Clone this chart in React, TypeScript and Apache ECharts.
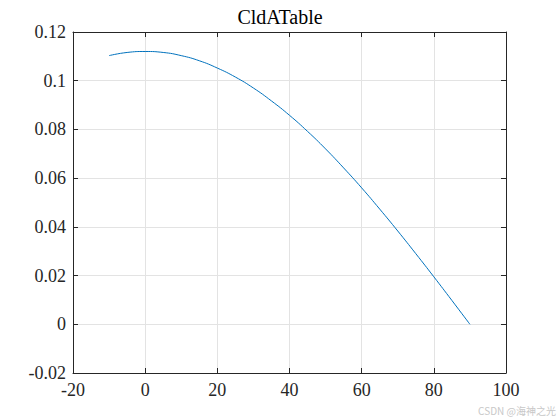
import React, { useEffect, useRef } from 'react';
import * as echarts from 'echarts';

// angle samples
const xValues = [-10, -5, 0, 5, 10, 15, 20, 25, 30, 35, 40, 45, 50, 55, 60, 65, 70, 75, 80, 85, 90];
const yValues = [
    0.1103, 0.1116, 0.112, 0.1116, 0.1103, 0.1082, 0.1052, 0.1015, 0.097, 0.0917, 0.0858,
    0.0792, 0.072, 0.0642, 0.056, 0.0473, 0.0383, 0.029, 0.0195, 0.0098, 0.0,
];
const titleText = 'CldATable';
const watermark = 'CSDN @海神之光';

const FONT = 'Liberation Serif';
const AXIS_COLOR = '#262626';
const GRID_COLOR = '#e3e3e3';

function makeAxis(kind: 'x' | 'y', position: string, main: boolean) {
    const range =
        kind === 'x'
            ? { min: -20, max: 100, interval: 20 }
            : { min: -0.02, max: 0.12, interval: 0.02 };
    return {
        type: 'value',
        position,
        ...range,
        axisLine: { show: true, onZero: false, lineStyle: { color: AXIS_COLOR, width: 1 } },
        axisTick: { show: true, inside: true, length: 5, lineStyle: { color: AXIS_COLOR, width: 1 } },
        axisLabel: {
            show: main,
            fontFamily: FONT,
            fontSize: 18,
            color: AXIS_COLOR,
            margin: kind === 'x' ? 8 : 7,
            formatter: (v: number) => String(parseFloat(v.toFixed(2))),
        },
        splitLine: main
            ? { show: true, lineStyle: { color: GRID_COLOR, width: 1 } }
            : { show: false },
    };
}

export default function App() {
    const chartRef = useRef<HTMLDivElement>(null);

    useEffect(() => {
        if (!chartRef.current) return;
        const myChart = echarts.init(chartRef.current, null, { renderer: 'svg' });

        const option = {
            animation: false,
            title: {
                text: titleText,
                left: 'center',
                top: 2,
                textStyle: { fontFamily: FONT, fontSize: 20, fontWeight: 'normal', color: '#000' },
            },
            grid: { left: 73, right: 54, top: 32, bottom: 47 },
            xAxis: [makeAxis('x', 'bottom', true), makeAxis('x', 'top', false)],
            yAxis: [makeAxis('y', 'left', true), makeAxis('y', 'right', false)],
            series: [
                {
                    type: 'line',
                    data: xValues.map((x, i) => [x, yValues[i]]),
                    smooth: true,
                    showSymbol: false,
                    lineStyle: { color: '#0072BD', width: 1 },
                },
            ],
            graphic: [
                {
                    type: 'text',
                    right: 4,
                    bottom: 5,
                    style: {
                        text: watermark,
                        fontSize: 10,
                        fill: '#c8c8c8',
                        fontFamily: 'Noto Sans CJK SC',
                    },
                },
            ],
        };

        myChart.setOption(option);
        return () => {
            myChart.dispose();
        };
    }, []);

    return (
        <div
            ref={chartRef}
            style={{ position: 'fixed', left: 0, top: 0, width: 560, height: 420, background: '#fff' }}
        />
    );
}
